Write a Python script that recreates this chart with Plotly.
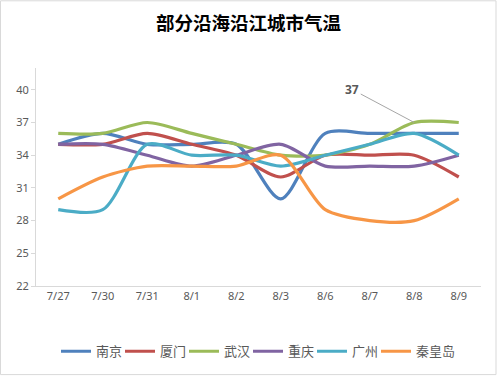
import plotly.graph_objects as go

categories = ["7/27", "7/30", "7/31", "8/1", "8/2", "8/3", "8/6", "8/7", "8/8", "8/9"]
nanjing = [35, 36, 35, 35, 35, 30, 36, 36, 36, 36]
xiamen = [35, 35, 36, 35, 34, 32, 34, 34, 34, 32]
wuhan = [36, 36, 37, 36, 35, 34, 34, 35, 37, 37]
chongqing = [35, 35, 34, 33, 34, 35, 33, 33, 33, 34]
guangzhou = [29, 29, 35, 34, 34, 33, 34, 35, 36, 34]
qinhuangdao = [30, 32, 33, 33, 33, 34, 29, 28, 28, 30]

series = [
    ("南京", nanjing, "#4F81BD"),
    ("厦门", xiamen, "#C0504D"),
    ("武汉", wuhan, "#9BBB59"),
    ("重庆", chongqing, "#8064A2"),
    ("广州", guangzhou, "#4BACC6"),
    ("秦皇岛", qinhuangdao, "#F79646"),
]
y_ticks = [22, 25, 28, 31, 34, 37, 40]

fig = go.Figure()
for name, vals, color in series:
    fig.add_trace(go.Scatter(
        x=categories, y=vals, name=name, mode="lines",
        line=dict(color=color, width=3.2, shape="spline", smoothing=0.8),
        legendwidth=19 if len(name) == 2 else 40,
    ))

fig.add_annotation(
    x=categories[8], y=wuhan[8], text="<b>37</b>",
    showarrow=True, arrowhead=0, arrowwidth=1, arrowcolor="#A6A6A6",
    ax=-62, ay=-33, font=dict(size=12, color="#595959", family="Noto Sans"),
)

fig.update_layout(
    width=497, height=377,
    paper_bgcolor="white", plot_bgcolor="white",
    margin=dict(l=36, r=16, t=68, b=90),
    title=dict(text="<b>部分沿海沿江城市气温</b>", x=0.5, xanchor="center",
               y=1 - 24 / 377, yanchor="middle",
               font=dict(size=18.5, color="#000000", family="Noto Sans CJK SC")),
    font=dict(family="Noto Sans CJK SC", color="#595959", size=11),
    showlegend=True,
    legend=dict(orientation="h", x=0.5, xanchor="center", y=-0.225, yanchor="top",
                font=dict(size=13, color="#595959"), itemwidth=30,
                tracegroupgap=0),
    xaxis=dict(type="category", range=[-0.5, 9.5], showgrid=False,
               showline=True, linecolor="#D9D9D9", linewidth=1, ticks="",
               tickfont=dict(size=11, color="#595959", family="Noto Sans")),
    yaxis=dict(range=[22, 42], tickvals=y_ticks, showgrid=False, zeroline=False,
               showline=True, linecolor="#D9D9D9", linewidth=1, ticks="outside",
               ticklen=4, tickcolor="#D9D9D9",
               tickfont=dict(size=11, color="#595959", family="Noto Sans")),
    shapes=[dict(type="rect", xref="paper", yref="paper", x0=-35.5/445, x1=1+15/445,
                 y0=-89/219, y1=1+67.5/219, line=dict(color="#D9D9D9", width=1))],
)

fig.write_html("out.html", config={"displayModeBar": False},
               post_script="document.body.style.margin='0';")
